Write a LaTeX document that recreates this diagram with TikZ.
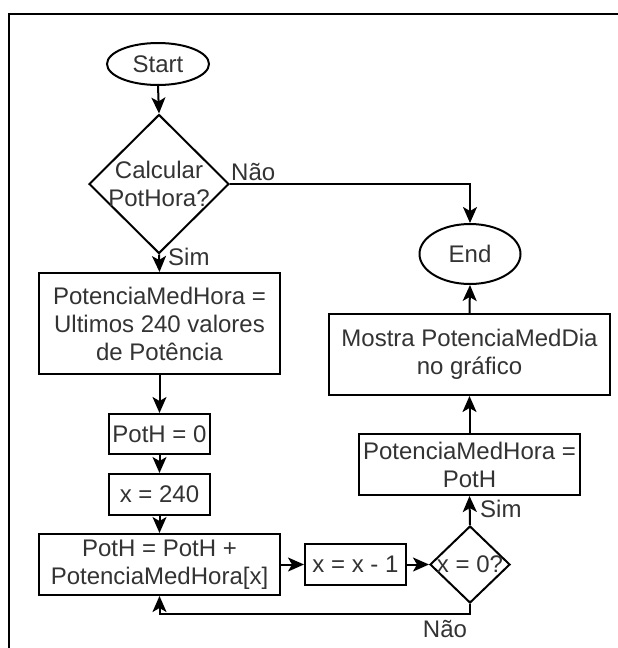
\documentclass[tikz,border=0pt]{standalone}
\usepackage{fontspec}
\setmainfont{Liberation Sans}
\usetikzlibrary{shapes.geometric,arrows.meta}
\begin{document}
\begin{tikzpicture}[x=1pt,y=-1pt,
  every node/.style={font=\fontsize{24}{28}\selectfont, text=black!80},
  box/.style={draw, line width=2pt, rectangle, inner sep=0pt, align=center},
  term/.style={draw, line width=2pt, ellipse, inner sep=0pt},
  dia/.style={draw, line width=2pt, diamond, inner sep=0pt},
  arr/.style={line width=2pt, -{Stealth[length=16pt,width=14pt,inset=4pt]}},
  lbl/.style={inner sep=0pt}]
\useasboundingbox (0,0) rectangle (618,648);
\fill[white] (0,0) rectangle (618,648);
\draw[line width=2.5pt] (9,648) -- (9,14) -- (618,14);

\node[term, minimum width=102pt, minimum height=42pt] (start) at (158,64) {Start};
\node[dia, minimum width=140pt, minimum height=139pt] (d1) at (159,184) {};
\node[align=center, inner sep=0pt] (d1t) at (159,184) {Calcular\\PotHora?};
\node[box, minimum width=241pt, minimum height=101pt] (b1) at (159.5,323.5) {PotenciaMedHora =\\Ultimos 240 valores\\de Potência};
\node[box, minimum width=101pt, minimum height=40pt] (b2) at (159.5,434) {PotH = 0};
\node[box, minimum width=101pt, minimum height=41pt] (b3) at (159.5,494.5) {x = 240};
\node[box, minimum width=241pt, minimum height=61pt] (b4) at (159.5,564.5) {PotH = PotH +\\PotenciaMedHora[x]};
\node[box, minimum width=101pt, minimum height=41pt] (b5) at (355.5,564.5) {x = x - 1};
\node[dia, minimum width=80pt, minimum height=77pt] (d2) at (470,564.5) {};
\node[inner sep=0pt] (d2t) at (470,564.5) {x = 0?};
\node[box, minimum width=221pt, minimum height=61pt] (b6) at (469.5,464.5) {PotenciaMedHora =\\PotH};
\node[box, minimum width=281pt, minimum height=81pt] (b7) at (469.5,354.5) {Mostra PotenciaMedDia\\no gráfico};
\node[term, minimum width=101pt, minimum height=60pt] (end) at (470,254) {End};
\coordinate (lp) at (470,614);

\draw[arr] (start.south) -- (d1.north);
\draw[arr] (d1.east) -| (end.north);
\node[lbl, anchor=base west] (lno1) at ([xshift=1pt,yshift=4pt]d1.east) {Não};
\draw[arr] (d1.south) -- (b1.north);
\node[lbl, anchor=base west] (lsim1) at ([xshift=9pt,yshift=-11pt]d1.south) {Sim};
\draw[arr] (b1.south) -- (b2.north);
\draw[arr] (b2.south) -- (b3.north);
\draw[arr] (b3.south) -- (b4.north);
\draw[arr] (b4.east) -- (b5.west);
\draw[arr] (b5.east) -- (d2.west);
\draw[arr] (d2.south) -- (lp) -| (b4.south);
\node[lbl, anchor=base] (lno2) at ([xshift=-25pt,yshift=-23pt]lp) {Não};
\draw[arr] (d2.north) -- (b6.south);
\node[lbl, anchor=base west] (lsim2) at ([xshift=10pt,yshift=8pt]d2.north) {Sim};
\draw[arr] (b6.north) -- (b7.south);
\draw[arr] (b7.north) -- (end.south);
\end{tikzpicture}
\end{document}
